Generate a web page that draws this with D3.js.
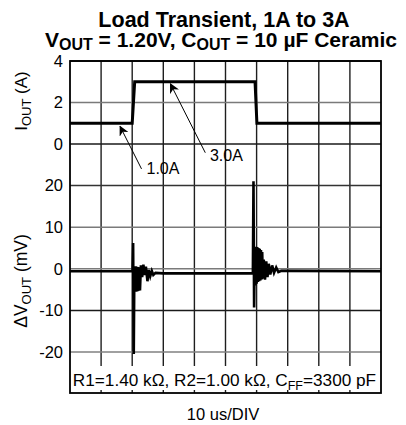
<!DOCTYPE html>
<html><head><meta charset="utf-8">
<script src="https://cdn.jsdelivr.net/npm/d3@7"></script>
<style>
html,body{margin:0;padding:0;background:#fff;}
svg text{font-family:"Liberation Sans",Arial,Helvetica,sans-serif;fill:#000;}
</style></head>
<body><svg id="c" width="406" height="425"></svg>
<script>
// ---------- data ----------
const currentTime = [0, 20.0, 20.8, 59.5, 60.1, 100];          // µs
const currentAmps = [1, 1, 3, 3, 1, 1];                         // A
const voltTime = [0, 20.1, 20.3, 20.5, 20.7, 20.9, 21.1, 21.3, 21.5, 21.7, 21.9, 22.1, 22.3, 22.5, 22.8,
  23.2, 23.6, 24.0, 24.4, 24.9, 25.3, 25.8, 26.3, 26.8, 27.5, 30.0, 58.8,
  59.0, 59.2, 59.4, 59.6, 59.8, 60.0, 60.2, 60.4, 60.6, 60.8, 61.0, 61.2, 61.4, 61.6, 61.8, 62.0,
  62.3, 62.7, 63.1, 63.5, 63.9, 64.4, 65.0, 65.6, 66.3, 67.0, 68.0, 100];
const voltMV = [-0.6, -0.6, 6.2, -20.5, 0.5, -5.5, 0.6, -5.5, 0.5, -5.4, 0.4, -5.3, 0.3, -5.2, 0.8,
  -2.0, 1.0, -1.5, 0.5, -3.0, -0.3, -1.8, -0.5, -1.5, -1.0, -1.1, -1.1,
  21.0, -9.3, 5.3, -4.0, 5.3, -3.6, 5.2, -3.2, 5.0, -3.0, 4.8, -2.8, 4.5, -2.6, 4.0, -2.4,
  2.2, -2.6, 1.8, -2.0, 1.2, -1.4, 0.8, -1.0, 0.3, -0.8, -0.5, -0.6];
const currentTicks = [0, 2, 4];
const voltTicks = [-20, -10, 0, 10, 20];
const timeDivs = [0, 10, 20, 30, 40, 50, 60, 70, 80, 90, 100];
const annotations = [
  {label: "1.0A", tipT: 16.1, tipI: 0.85, tailT: 23.0, tailI: -1.2, textT: 24.6, textI: -1.45},
  {label: "3.0A", tipT: 32.3, tipI: 2.9, tailT: 43.5, tailI: -0.42, textT: 45.0, textI: -0.82}
];
const titleLine1 = "Load Transient, 1A to 3A";
const xLabel = "10 us/DIV";

// ---------- layout ----------
const L = 70, R = 381, T = 61, B = 393;
const svg = d3.select("#c");
const x = d3.scaleLinear().domain([0, 100]).range([L, R]);
const yI = d3.scaleLinear().domain([0, 4]).range([144, T]);
const yV = d3.scaleLinear().domain([-20, 20]).range([352, 185.5]);

// grid verticals
const g = svg.append("g");
g.selectAll("line.v").data(timeDivs.slice(1, -1)).join("line")
  .attr("x1", d => x(d)).attr("x2", d => x(d)).attr("y1", T).attr("y2", B)
  .attr("stroke", "#1e1e1e").attr("stroke-width", 1.4);
// grid horizontals
const hColI = {0: "#1a1a1a", 2: "#7a7a7a", 4: "#000"};
g.selectAll("line.hi").data(currentTicks).join("line")
  .attr("x1", L).attr("x2", R).attr("y1", d => yI(d)).attr("y2", d => yI(d))
  .attr("stroke", d => hColI[d]).attr("stroke-width", 1.5);
const hColV = {"-20": "#808080", "-10": "#1a1a1a", "0": "#7a7a7a", "10": "#7a7a7a", "20": "#333"};
g.selectAll("line.hv").data(voltTicks).join("line")
  .attr("x1", L).attr("x2", R).attr("y1", d => yV(d)).attr("y2", d => yV(d))
  .attr("stroke", d => hColV[d]).attr("stroke-width", 1.5);

// annotation box at bottom
svg.append("rect").attr("x", L + 1).attr("y", 366).attr("width", R - L - 2).attr("height", 24).attr("fill", "#fff");
const boxText = svg.append("text").attr("x", (L + R) / 2 - 1).attr("y", 386).attr("text-anchor", "middle")
  .attr("font-size", 17.2);
boxText.append("tspan").text("R1=1.40 kΩ, R2=1.00 kΩ, C");
boxText.append("tspan").attr("font-size", 12.5).attr("dy", 4).text("FF");
boxText.append("tspan").attr("dy", -4).text("=3300 pF");

// frame
svg.append("rect").attr("x", L).attr("y", T).attr("width", R - L).attr("height", B - T)
  .attr("fill", "none").attr("stroke", "#000").attr("stroke-width", 1.8);

// current trace
const lineI = d3.line().x((d, i) => x(currentTime[i])).y(d => yI(d));
svg.append("path").attr("d", lineI(currentAmps)).attr("fill", "none").attr("stroke", "#000")
  .attr("stroke-width", 3).attr("stroke-linejoin", "miter");

// voltage trace
const lineV = d3.line().x((d, i) => x(voltTime[i])).y(d => yV(d));
svg.append("path").attr("d", lineV(voltMV)).attr("fill", "none").attr("stroke", "#000")
  .attr("stroke-width", 2.6).attr("stroke-linejoin", "miter");

// annotations
svg.append("defs").append("marker").attr("id", "ah").attr("viewBox", "0 0 10 10")
  .attr("refX", 9).attr("refY", 5).attr("markerWidth", 10).attr("markerHeight", 10)
  .attr("markerUnits", "userSpaceOnUse").attr("orient", "auto")
  .append("path").attr("d", "M0,0 L10,5 L0,10 L3,5 Z").attr("fill", "#000");
annotations.forEach(a => {
  svg.append("line").attr("x1", x(a.tailT)).attr("y1", yI(a.tailI)).attr("x2", x(a.tipT)).attr("y2", yI(a.tipI))
    .attr("stroke", "#000").attr("stroke-width", 1).attr("marker-end", "url(#ah)");
  svg.append("text").attr("x", x(a.textT)).attr("y", yI(a.textI)).attr("font-size", 16).text(a.label);
});

// y tick labels
const axI = d3.axisLeft(yI).tickValues(currentTicks).tickSize(0).tickPadding(7).tickFormat(d3.format("d"));
const aI = svg.append("g").attr("transform", `translate(${L},0)`).call(axI);
const axV = d3.axisLeft(yV).tickValues(voltTicks).tickSize(0).tickPadding(7).tickFormat(d => d < 0 ? "-" + Math.abs(d) : d);
const aV = svg.append("g").attr("transform", `translate(${L},0)`).call(axV);
[aI, aV].forEach(a => {
  a.select(".domain").remove();
  a.selectAll("text").attr("font-size", 16.5).attr("font-family", "Liberation Sans, Arial, sans-serif").attr("fill", "#000");
});

// y titles
const t1 = svg.append("text").attr("transform", `translate(27,101) rotate(-90)`).attr("text-anchor", "middle").attr("font-size", 17);
t1.append("tspan").text("I");
t1.append("tspan").attr("font-size", 13).attr("dy", 4).text("OUT");
t1.append("tspan").attr("dy", -4).text(" (A)");
const t2 = svg.append("text").attr("transform", `translate(27,281) rotate(-90)`).attr("text-anchor", "middle").attr("font-size", 17.5);
t2.append("tspan").text("ΔV");
t2.append("tspan").attr("font-size", 13).attr("dy", 4).text("OUT");
t2.append("tspan").attr("dy", -4).text(" (mV)");

// title
svg.append("text").attr("x", 224).attr("y", 26.7).attr("text-anchor", "middle").attr("font-size", 21.5)
  .attr("font-weight", "bold").text(titleLine1);
const tt = svg.append("text").attr("x", 221).attr("y", 46.5).attr("text-anchor", "middle").attr("font-size", 21)
  .attr("font-weight", "bold");
tt.append("tspan").text("V");
tt.append("tspan").attr("font-size", 16).attr("dy", 3.5).text("OUT");
tt.append("tspan").attr("dy", -3.5).text(" = 1.20V, C");
tt.append("tspan").attr("font-size", 16).attr("dy", 3.5).text("OUT");
tt.append("tspan").attr("dy", -3.5).text(" = 10 µF Ceramic");

// x label
svg.append("text").attr("x", 223).attr("y", 420).attr("text-anchor", "middle").attr("font-size", 16.5).text(xLabel);
</script></body></html>
